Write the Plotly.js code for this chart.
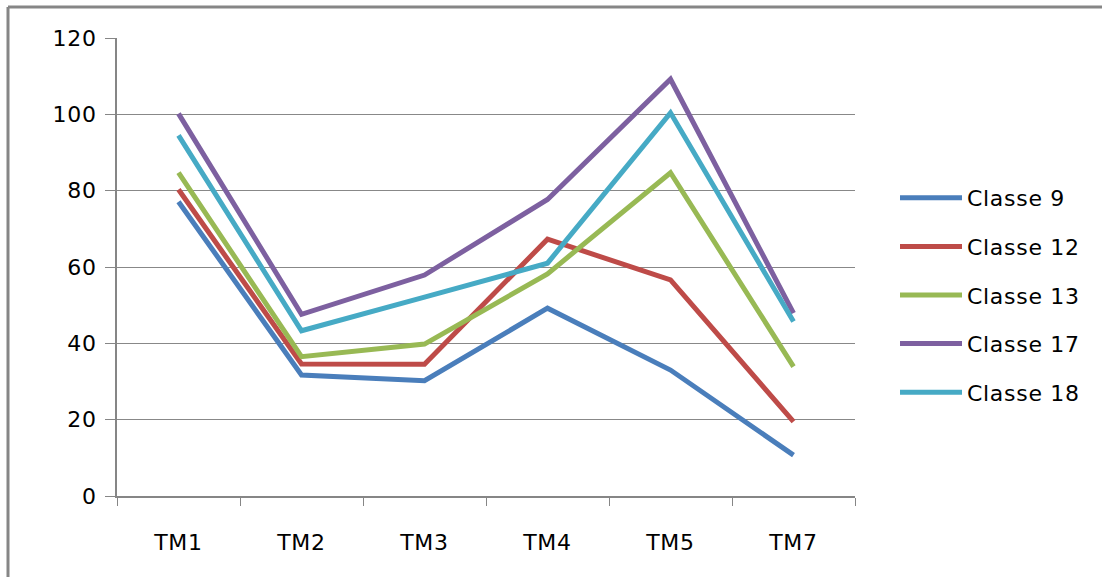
<!DOCTYPE html>
<html>
<head>
<meta charset="utf-8">
<script src="https://cdn.plot.ly/plotly-3.0.1.min.js"></script>
<style>
html,body{margin:0;padding:0;background:#fff;}
#chart{width:1102px;height:577px;}
#chart .xtick text, #chart .ytick text, #chart .legendtext {letter-spacing: 0.7px;}
</style>
</head>
<body>
<div id="chart"></div>
<script>
const categories = ["TM1", "TM2", "TM3", "TM4", "TM5", "TM7"];
const seriesNames = ["Classe 9", "Classe 12", "Classe 13", "Classe 17", "Classe 18"];
const classe9  = [77.1, 31.7, 30.2, 49.2, 33.0, 10.7];
const classe12 = [80.3, 34.6, 34.5, 67.3, 56.6, 19.5];
const classe13 = [84.7, 36.5, 39.8, 58.2, 84.7, 33.9];
const classe17 = [100.2, 47.6, 57.9, 77.7, 109.2, 47.9];
const classe18 = [94.5, 43.3, 52.1, 61.0, 100.4, 45.7];
const yTicks = [0, 20, 40, 60, 80, 100, 120];

const values = [classe9, classe12, classe13, classe17, classe18];
const colors = ["#4A7EBB", "#BE4B48", "#98B954", "#7D60A0", "#46AAC5"];

const traces = values.map((v, i) => ({
  type: "scatter",
  mode: "lines",
  x: categories,
  y: v,
  name: seriesNames[i],
  legendgroup: "g" + i,
  line: {color: colors[i], width: 5},
  hoverinfo: "x+y+name"
}));

const font = {family: "DejaVu Sans, sans-serif", size: 22, color: "#000"};
const L = 117, R = 855, T = 38, B = 496, W = 1102, H = 577;
const pw = R - L, ph = B - T;

const layout = {
  width: W, height: H,
  margin: {l: L, r: W - R, t: T, b: H - B, pad: 0},
  paper_bgcolor: "#fff",
  plot_bgcolor: "#fff",
  font: font,
  showlegend: true,
  legend: {
    x: (895 - L) / pw, y: 1 - (177 - T) / ph,
    xanchor: "left", yanchor: "top",
    font: font,
    itemwidth: 62,
    tracegroupgap: 17,
    traceorder: "grouped",
    bgcolor: "rgba(0,0,0,0)"
  },
  xaxis: {
    type: "category",
    categoryorder: "array",
    categoryarray: categories,
    range: [-0.5, 5.5],
    showline: true, linecolor: "#868686", linewidth: 2,
    ticks: "outside", tickson: "boundaries", ticklen: 8, tickcolor: "#868686", tickwidth: 1,
    showgrid: false, zeroline: false,
    tickfont: font,
    ticklabelstandoff: 26
  },
  yaxis: {
    range: [0, 120],
    tickvals: yTicks,
    ticktext: yTicks.map(String),
    showline: true, linecolor: "#868686", linewidth: 2,
    ticks: "outside", ticklen: 10, tickcolor: "#868686", tickwidth: 1,
    showgrid: true, gridcolor: "#888888", gridwidth: 1,
    zeroline: false,
    tickfont: font,
    ticklabelstandoff: 4
  },
  shapes: [
    {type: "line", xref: "paper", yref: "paper",
     x0: (8 - L) / pw, x1: (W + 20 - L) / pw,
     y0: 1 + (T - 7) / ph, y1: 1 + (T - 7) / ph,
     line: {color: "#868686", width: 3}},
    {type: "line", xref: "paper", yref: "paper",
     x0: (8 - L) / pw, x1: (8 - L) / pw,
     y0: 1 + (T - 7) / ph, y1: -(H + 20 - B) / ph,
     line: {color: "#868686", width: 3}}
  ]
};

Plotly.newPlot("chart", traces, layout, {displayModeBar: false, staticPlot: true});
</script>
</body>
</html>
